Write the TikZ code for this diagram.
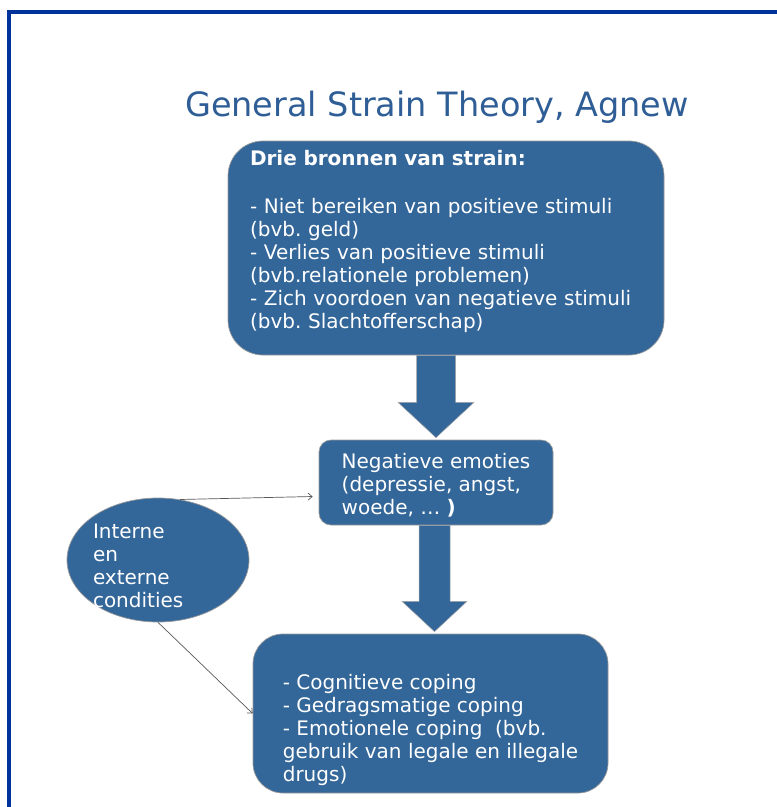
\documentclass[tikz,border=0pt]{standalone}
\usepackage{fontspec}
\setmainfont{DejaVu Sans}
\usetikzlibrary{shapes.geometric,calc,arrows.meta}

\definecolor{boxblue}{RGB}{51,102,153}
\definecolor{frameblue}{RGB}{0,51,153}
\definecolor{titleblue}{RGB}{47,94,150}
\frenchspacing

\begin{document}
\begin{tikzpicture}[x=1pt,y=-1pt,
    box/.style={rectangle,rounded corners=#1,draw=gray!80,line width=0.7pt,
      fill=boxblue,text=white,align=left,font=\fontsize{20}{23}\selectfont},
    box/.default=12pt,
    fat/.style={fill=boxblue,draw=gray!70,line width=0.5pt},
    link/.style={-{Straight Barb[length=4pt,width=7pt]},gray!70!black,line width=0.7pt}]
  \useasboundingbox (0,0) rectangle (777,807);
  \fill[white] (0,0) rectangle (777,807);
  \draw[frameblue,line width=4pt] (9,830) -- (9,12) -- (790,12);

  \node[text=titleblue,font=\fontsize{33.5}{40}\selectfont] (title) at (437,107) {General Strain Theory, Agnew};

  \node[box=35pt,text width=392pt,inner xsep=22pt,minimum height=214pt] (src) at (446,248)
    {\textbf{Drie bronnen van strain:}\\[25pt]- Niet bereiken van positieve stimuli\\(bvb. geld)\\- Verlies van positieve stimuli\\(bvb.relationele problemen)\\- Zich voordoen van negatieve stimuli\\(bvb. Slachtofferschap)\\[-6pt]\mbox{}};
  \node[box,minimum width=234pt,minimum height=85pt] (emo) at (436,482.5)
    {\mbox{}\\[-2pt]Negatieve emoties\\(depressie, angst,\\woede, … \textbf{)}};
  \node[box=30pt,minimum width=355pt,minimum height=159pt] (cope) at (430.5,713.5)
    {\mbox{}\\[26pt]- Cognitieve coping\\- Gedragsmatige coping\\- Emotionele coping\ \ (bvb.\\gebruik van legale en illegale\\drugs)};

  \node[ellipse,draw=gray!80,line width=0.7pt,fill=boxblue,minimum width=182pt,minimum height=124pt] (cond) at (158,560) {};
  \node[text=white,align=left,text width=130pt,inner sep=0pt,font=\fontsize{20}{23}\selectfont] (condtxt) at (158,566)
    {Interne\\en\\externe\\condities};

  % dikke pijlen
  \coordinate (a1) at (src.south -| emo.north);
  \filldraw[fat] ($(a1)+(-19.5,0)$) -- ($(a1)+(19.5,0)$) -- ($(a1)+(19.5,47)$) -- ($(a1)+(38,47)$)
    -- ($(emo.north)+(0,-2)$) -- ($(a1)+(-38,47)$) -- ($(a1)+(-19.5,47)$) -- cycle;
  \coordinate (a2) at ($(emo.south)+(-1.5,0)$);
  \filldraw[fat] ($(a2)+(-15.5,0)$) -- ($(a2)+(15.5,0)$) -- ($(a2)+(15.5,76)$) -- ($(a2)+(32.5,76)$)
    -- ($(a2 |- cope.north)+(0,-2)$) -- ($(a2)+(-32.5,76)$) -- ($(a2)+(-15.5,76)$) -- cycle;

  \draw[link] (cond.70) -- ([shift={(-6pt,-14pt)}]emo.west);
  \draw[link] (cond.south) -- (cope.west);
\end{tikzpicture}
\end{document}
